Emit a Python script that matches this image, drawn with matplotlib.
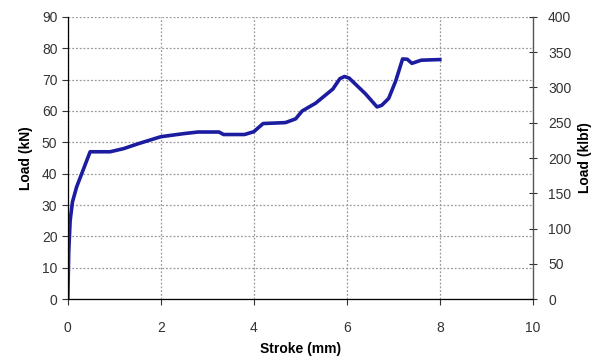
import numpy as np
import matplotlib.pyplot as plt

plt.rcParams['font.family'] = ['Liberation Sans', 'DejaVu Sans']

# stroke (mm) vs load (kN)
stroke = [0.0, 0.02, 0.05, 0.1, 0.19, 0.33, 0.48, 0.91, 1.2, 1.5, 2.0, 2.5,
          2.8, 3.25, 3.35, 3.8, 4.0, 4.2, 4.68, 4.9, 5.04, 5.33, 5.7, 5.85,
          5.95, 6.05, 6.4, 6.65, 6.75, 6.9, 7.05, 7.2, 7.3, 7.4, 7.6, 8.0]
load_kn = [0.0, 15, 25, 31, 35.8, 41.2, 47, 47, 48, 49.5, 51.8, 52.8,
           53.3, 53.3, 52.5, 52.5, 53.4, 56.0, 56.3, 57.5, 60.0, 62.5, 67.0, 70.3,
           71.0, 70.5, 65.5, 61.3, 61.8, 64.0, 69.5, 76.6, 76.5, 75.2, 76.2, 76.4]

xticks = [0, 2, 4, 6, 8, 10]
yticks_kn = list(range(0, 91, 10))
yticks_klbf = list(range(0, 401, 50))

fig = plt.figure(figsize=(6, 3.6), dpi=100)
ax = fig.add_axes([0.113, 0.169, 0.775, 0.784])
ax.plot(stroke, load_kn, color='#1c1ca0', lw=2.6, solid_joinstyle='round')
ax.set_xlim(0, 10)
ax.set_ylim(0, 90)
ax.set_xticks(xticks)
ax.set_yticks(yticks_kn)
ax.grid(True, color='#9a9a9a', ls=(0, (1.5, 1.5)), lw=0.9)
ax.set_axisbelow(True)
ax.spines['top'].set_visible(False)
for s in ['left', 'bottom', 'right']:
    ax.spines[s].set_color('#555555')
    ax.spines[s].set_linewidth(0.9)
ax.tick_params(labelsize=10, colors='#333333', length=4, width=0.8)
ax.tick_params(axis='x', pad=12)
ax.set_xlabel('Stroke (mm)', fontsize=10, fontweight='bold', labelpad=5)
ax.set_ylabel('Load (kN)', fontsize=10, fontweight='bold', labelpad=6)

ax2 = ax.twinx()
ax2.set_ylim(0, 400)
ax2.set_yticks(yticks_klbf)
ax2.spines['top'].set_visible(False)
ax2.spines['right'].set_color('#555555')
ax2.tick_params(labelsize=10, colors='#333333', length=6, width=0.8,
                direction='inout', pad=8)
ax2.set_ylabel('Load (klbf)', fontsize=10, fontweight='bold', labelpad=5)

fig.savefig('out.png', dpi=100)
